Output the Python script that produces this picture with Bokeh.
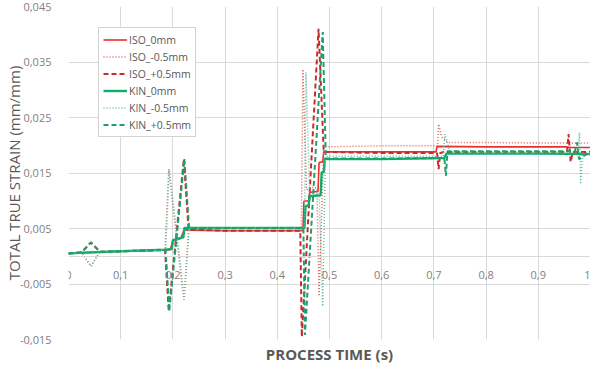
from bokeh.plotting import figure
from bokeh.models import (FixedTicker, CustomJSTickFormatter, Title, Legend, LegendItem, Range1d)
from bokeh.embed import file_html
from bokeh.resources import INLINE

# ---------------- data ----------------
iso0_t = [0, 0.02, 0.1, 0.185, 0.195, 0.2, 0.215, 0.222, 0.23, 0.3, 0.4, 0.449, 0.451, 0.46, 0.462,
          0.478, 0.48, 0.487, 0.489, 0.6, 0.704, 0.706, 0.8, 0.9, 0.955, 0.96, 1.0]
iso0_y = [0.0005, 0.0006, 0.0009, 0.0011, 0.0012, 0.0028, 0.0032, 0.0048, 0.0047, 0.0046, 0.0046,
          0.0046, 0.0099, 0.0100, 0.0115, 0.0117, 0.0169, 0.0170, 0.0188, 0.0188, 0.0188, 0.0198,
          0.0197, 0.0197, 0.0197, 0.0196, 0.0196]

isom_t = [0, 0.025, 0.043, 0.06, 0.1, 0.185, 0.192, 0.221, 0.23, 0.3, 0.4, 0.446, 0.449, 0.456,
          0.46, 0.47, 0.476, 0.480, 0.489, 0.6, 0.707, 0.709, 0.715, 0.727, 0.8, 0.9, 1.0]
isom_y = [0.0005, 0.0007, -0.0018, 0.0008, 0.0009, 0.0011, 0.0157, -0.0078, 0.0048, 0.0046, 0.0046,
          0.0047, 0.0337, 0.0120, 0.0121, 0.0125, 0.0122, -0.0072, 0.0197, 0.0199, 0.0199, 0.0238,
          0.0215, 0.0205, 0.0205, 0.0204, 0.0204]

isop_t = [0, 0.025, 0.043, 0.06, 0.1, 0.185, 0.192, 0.221, 0.23, 0.3, 0.4, 0.444, 0.447, 0.479,
          0.489, 0.6, 0.706, 0.709, 0.712, 0.72, 0.8, 0.9, 0.955, 0.958, 0.962, 0.966, 1.0]
isop_y = [0.0005, 0.0007, 0.0025, 0.0008, 0.0009, 0.0011, -0.0099, 0.0175, 0.0048, 0.0046, 0.0046,
          0.0046, -0.0145, 0.0410, 0.0188, 0.0186, 0.0186, 0.0157, 0.0186, 0.0188, 0.0188, 0.0188,
          0.0188, 0.0220, 0.0170, 0.0188, 0.0188]

kin0_t = [0, 0.02, 0.1, 0.186, 0.198, 0.2, 0.215, 0.22, 0.222, 0.3, 0.4, 0.452, 0.454, 0.46, 0.462,
          0.483, 0.485, 0.489, 0.491, 0.6, 0.72, 0.724, 0.8, 0.9, 1.0]
kin0_y = [0.0005, 0.0006, 0.0009, 0.0012, 0.0013, 0.0029, 0.0033, 0.0034, 0.0051, 0.0051, 0.0051,
          0.0051, 0.0090, 0.0092, 0.0108, 0.0110, 0.0151, 0.0152, 0.0175, 0.0175, 0.0177, 0.0185,
          0.0185, 0.0185, 0.0184]

kinm_t = [0, 0.025, 0.043, 0.06, 0.1, 0.186, 0.193, 0.222, 0.231, 0.3, 0.4, 0.452, 0.455, 0.462,
          0.47, 0.48, 0.487, 0.492, 0.6, 0.718, 0.721, 0.73, 0.8, 0.9, 0.975, 0.979, 0.981, 0.985, 1.0]
kinm_y = [0.0005, 0.0007, -0.0018, 0.0008, 0.0009, 0.0012, 0.0157, -0.0078, 0.0051, 0.0051, 0.0051,
          0.0051, 0.0331, 0.0112, 0.0113, 0.0113, -0.0090, 0.0180, 0.0180, 0.0180, 0.0220, 0.0190,
          0.0187, 0.0187, 0.0187, 0.0223, 0.0130, 0.0186, 0.0186]

kinp_t = [0, 0.025, 0.043, 0.06, 0.1, 0.186, 0.193, 0.222, 0.231, 0.3, 0.4, 0.450, 0.453, 0.487,
          0.493, 0.6, 0.72, 0.723, 0.726, 0.73, 0.8, 0.9, 0.97, 0.974, 0.978, 1.0]
kinp_y = [0.0005, 0.0007, 0.0025, 0.0008, 0.0009, 0.0012, -0.0099, 0.0175, 0.0051, 0.0051, 0.0051,
          0.0051, -0.0142, 0.0404, 0.0176, 0.0176, 0.0177, 0.0145, 0.0189, 0.0189, 0.0189, 0.0189,
          0.0189, 0.0205, 0.0175, 0.0189]

series_names = ["ISO_0mm", "ISO_-0.5mm", "ISO_+0.5mm", "KIN_0mm", "KIN_-0.5mm", "KIN_+0.5mm"]
x_ticks = [0, 0.1, 0.2, 0.3, 0.4, 0.5, 0.6, 0.7, 0.8, 0.9, 1.0]
y_ticks = [-0.015, -0.005, 0.005, 0.015, 0.025, 0.035, 0.045]

# ---------------- figure ----------------
FONT = "Open Sans"
GRAY = "#7f7f7f"
p = figure(width=590, height=366, output_backend="svg", toolbar_location=None,
           x_range=Range1d(0, 1), y_range=Range1d(-0.015, 0.045),
           min_border_left=0, min_border_right=0, min_border_top=6, min_border_bottom=0)
p.outline_line_color = None
p.background_fill_color = "white"

p.xgrid.ticker = FixedTicker(ticks=x_ticks)
p.ygrid.ticker = FixedTicker(ticks=y_ticks)
p.xgrid.grid_line_color = "#d9d9d9"
p.ygrid.grid_line_color = "#d9d9d9"

# x axis at y = 0
xa = p.xaxis[0]
xa.fixed_location = 0
xa.ticker = FixedTicker(ticks=x_ticks)
xa.formatter = CustomJSTickFormatter(code="""
if (Math.abs(tick) < 1e-9) return '0';
if (Math.abs(tick - 1) < 1e-9) return '1';
return tick.toFixed(1).replace('.', ',');""")
xa.axis_line_color = "#d9d9d9"
xa.major_tick_line_color = None
xa.minor_tick_line_color = None
xa.major_label_text_font = FONT
xa.major_label_text_font_size = "11px"
xa.major_label_text_color = GRAY
xa.major_label_standoff = 9

ya = p.yaxis[0]
ya.ticker = FixedTicker(ticks=y_ticks)
ya.formatter = CustomJSTickFormatter(code="return tick.toFixed(3).replace('.', ',');")
ya.axis_line_color = None
ya.major_tick_line_color = None
ya.minor_tick_line_color = None
ya.major_label_text_font = FONT
ya.major_label_text_font_size = "11px"
ya.major_label_text_color = GRAY
ya.major_label_standoff = 11
ya.axis_label = "TOTAL TRUE STRAIN (mm/mm)"
ya.axis_label_text_font = FONT
ya.axis_label_text_font_size = "15px"
ya.axis_label_text_font_style = "normal"
ya.axis_label_text_color = "#595959"
ya.axis_label_standoff = -7

p.add_layout(Title(text="PROCESS TIME (s)", align="center", text_font=FONT, standoff=5,
                   text_font_size="15px", text_font_style="bold", text_color="#595959"), "below")

styles = [
    (iso0_t, iso0_y, "#e8302c", "solid", 1.6),
    (isom_t, isom_y, "#d9675f", "1 2", 1.5),
    (isop_t, isop_y, "#cc2a2a", "5 3", 2.0),
    (kin0_t, kin0_y, "#10ad6c", "solid", 2.4),
    (kinm_t, kinm_y, "#62c0a4", "1 2", 1.5),
    (kinp_t, kinp_y, "#1f9e6e", "5 3", 2.0),
]
items = []
for name, (tt, yy, col, dash, w) in zip(series_names, styles):
    r = p.line(tt, yy, line_color=col, line_dash=dash, line_width=w)
    items.append(LegendItem(label=name, renderers=[r]))

legend = Legend(items=items, location=(30, 202))
legend.border_line_color = "#a6a6a6"
legend.border_line_width = 1
legend.background_fill_alpha = 1
legend.label_text_font = FONT
legend.label_text_font_size = "10.5px"
legend.label_text_color = "#595959"
legend.label_height = 15
legend.glyph_height = 15
legend.glyph_width = 24
legend.spacing = 2
legend.padding = 4
legend.margin = 0
legend.label_standoff = 2
p.add_layout(legend, "center")

open("out.html", "w").write(file_html(p, INLINE))
